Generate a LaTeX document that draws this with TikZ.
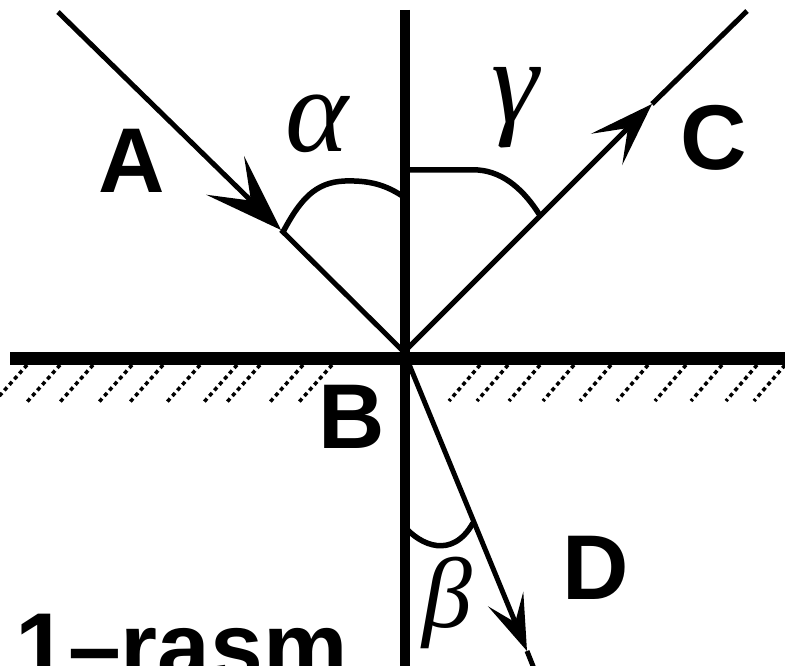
\documentclass[tikz,border=0pt]{standalone}
\usepackage{fontspec}
\setmainfont{Liberation Sans}
\newfontfamily\grk{Liberation Serif}
\usetikzlibrary{arrows.meta}
\begin{document}
\begin{tikzpicture}[x=1pt,y=-1pt,
  ray/.style={line width=5pt},
  arcline/.style={line width=5.5pt},
  hatchline/.style={line width=3.5pt, dash pattern=on 4pt off 3.5pt},
  lbl/.style={font=\fontsize{92}{92}\selectfont\bfseries, inner sep=0pt},
  glbl/.style={font=\fontsize{120}{120}\selectfont\grk\itshape, inner sep=0pt}]
\useasboundingbox (0,0) rectangle (785,666);
\clip (0,0) rectangle (785,666);
% points
\coordinate (O) at (404,352);
\coordinate (Aend) at (58,12);
\coordinate (Cend) at (747,11);
\coordinate (Dend) at (537,676);
\coordinate (tipA) at (281,230);
\coordinate (tipC) at (652,104);
\coordinate (tipD) at (527,651);
\coordinate (vtop) at (405,10);
\coordinate (vbot) at (405,670);
\coordinate (hl) at (10,358);
\coordinate (hr) at (790,358);
% hatching
\foreach \t in {27,60,93,132,163,200,237,260,303,332}
  \draw[hatchline] (\t,365) -- (\t-33,402);
\foreach \t in {480,508,540,574,611,648,686,722,757,785}
  \draw[hatchline] (\t,365) -- (\t-31,401);
% axes
\draw[line width=10pt] (vtop) -- (vbot);
\draw[line width=13pt] (hl) -- (hr);
% rays
\draw[ray,-{Stealth[length=78pt,width=54pt,inset=36pt]}] (Aend) -- (tipA);
\draw[ray] (tipA) -- (O);
\draw[ray,-{Stealth[length=64pt,width=44pt,inset=30pt]}] (O) -- (tipC);
\draw[ray] (tipC) -- (Cend);
\draw[ray,-{Stealth[length=56pt,width=38pt,inset=25pt]}] (O) -- (tipD);
\draw[ray] (tipD) -- (Dend);
% angle arcs
\coordinate (a1) at (283,232);
\coordinate (a2) at (404,197);
\draw[arcline] (a1) .. controls (300,200) and (315,182) .. (345,181)
  .. controls (375,180) and (390,188) .. (a2);
\coordinate (g1) at (404,170);
\coordinate (g2) at (539,214);
\draw[arcline] (g1) -- (478,170) .. controls (505,172) and (525,192) .. (g2);
\coordinate (b1) at (404,526);
\coordinate (b2) at (473,523);
\draw[arcline] (b1) .. controls (420,545) and (452,560) .. (b2);
% labels
\node[lbl] (lA) at (132,161) {A};
\node[lbl] (lB) at (352,417) {B};
\node[lbl] (lC) at (714,138) {C};
\node[lbl] (lD) at (596,568) {D};
\node[glbl] (lal) at (317,124) {α};
\node[glbl] (lga) at (515,108) {γ};
\node[glbl,font=\fontsize{100}{100}\selectfont\grk\itshape] (lbe) at (447,603) {β};
\node[inner sep=0pt,anchor=base west,font=\fontsize{95}{95}\selectfont\bfseries] (cap) at (15,679) {1–rasm};
\end{tikzpicture}
\end{document}
